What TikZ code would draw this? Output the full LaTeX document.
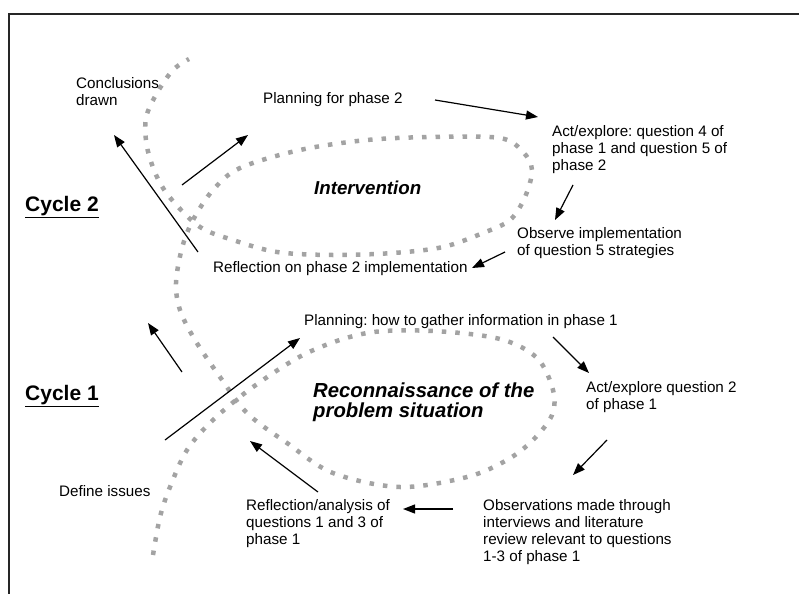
\documentclass[tikz,border=0pt]{standalone}
\usepackage{fontspec}
\setmainfont{Liberation Sans}
\usetikzlibrary{arrows.meta}
\frenchspacing
\begin{document}
\begin{tikzpicture}[x=1pt,y=-1pt,
  lbl/.style={anchor=west,inner sep=0pt,align=left,font=\fontsize{15.2}{17}\selectfont},
  cyclelbl/.style={anchor=base west,inner sep=0pt,font=\fontsize{21}{24}\selectfont\bfseries},
  phaselbl/.style={anchor=west,inner sep=0pt,align=left,font=\bfseries\itshape},
  arr/.style={line width=1.2pt,-{Triangle[length=12pt,width=9pt]}},
  spiral/.style={line width=4.5pt,draw=black!36,dash pattern=on 4.5pt off 9pt},
  frame/.style={line width=1.3pt,draw=black!85}]
\useasboundingbox (0,0) rectangle (799,594);
\draw[frame] (799,14) -- (9,14) -- (9,594);
% spiral
\draw[spiral] plot[smooth,tension=0.55] coordinates {
 (153,555) (160,517) (170,487) (187,450) (213,420) (253,387) (307,353)
 (367,333) (433,331) (500,339) (537,358) (553,390) (552,415) (533,440)
 (507,460) (467,477) (400,487) (333,473) (287,443) (247,413) (220,377)
 (195,340) (180,310) (176,283) (182,248) (193,220) (213,190) (240,168)
 (300,150) (367,140) (433,137) (500,138) (523,152) (532,170) (525,197)
 (510,220) (483,233) (443,247) (393,253) (333,255) (277,252) (233,240)
 (200,227) (172,200) (157,177) (147,147) (146,118) (157,93) (173,70) (189,59)};
% labels
\node[lbl] (concl) at (76,91.5) {Conclusions\\drawn};
\node[lbl] (plan2) at (263,100) {Planning for phase 2};
\node[lbl] (act2) at (552,150) {Act/explore: question 4 of\\phase 1 and question 5 of\\phase 2};
\node[lbl] (obs2) at (517,243.5) {Observe implementation\\of question 5 strategies};
\node[lbl] (refl2) at (213,269) {Reflection on phase 2 implementation};
\node[cyclelbl] (cyc2) at (25,211) {\underline{Cycle 2}};
\node[phaselbl,font=\fontsize{18.7}{20}\selectfont\bfseries\itshape] (interv) at (314,188) {Intervention};
\node[lbl] (plan1) at (304,322) {Planning: how to gather information in phase 1};
\node[lbl] (act1) at (586,397.5) {Act/explore question 2\\of phase 1};
\node[cyclelbl] (cyc1) at (25,400) {\underline{Cycle 1}};
\node[phaselbl,font=\fontsize{20.3}{19.5}\selectfont\bfseries\itshape] (recon) at (313,402) {Reconnaissance of the\\problem situation};
\node[lbl] (define) at (59,491) {Define issues};
\node[lbl] (refl1) at (246,524) {Reflection/analysis of\\questions 1 and 3 of\\phase 1};
\node[lbl] (obs1) at (483,532.5) {Observations made through\\interviews and literature\\review relevant to questions\\1-3 of phase 1};
% arrow end points
\coordinate (a1s) at (198,252); \coordinate (a1e) at (114,135);
\coordinate (a2s) at (182,185); \coordinate (a2e) at (248,135);
\coordinate (a3s) at (435,100); \coordinate (a3e) at (538,117);
\coordinate (a4s) at (573,185); \coordinate (a4e) at (555,220);
\coordinate (a5s) at (505,252); \coordinate (a5e) at (472,268);
\coordinate (a6s) at (182,372); \coordinate (a6e) at (148,323);
\coordinate (a7s) at (165,440); \coordinate (a7e) at (300,338);
\coordinate (a8s) at (553,337); \coordinate (a8e) at (589,373);
\coordinate (a9s) at (607,440); \coordinate (a9e) at (573,475);
\coordinate (a10s) at (453,509); \coordinate (a10e) at (403,509);
\coordinate (a11s) at (318,492); \coordinate (a11e) at (250,441);
\foreach \i in {1,...,11} \draw[arr] (a\i s) -- (a\i e);
\end{tikzpicture}
\end{document}
